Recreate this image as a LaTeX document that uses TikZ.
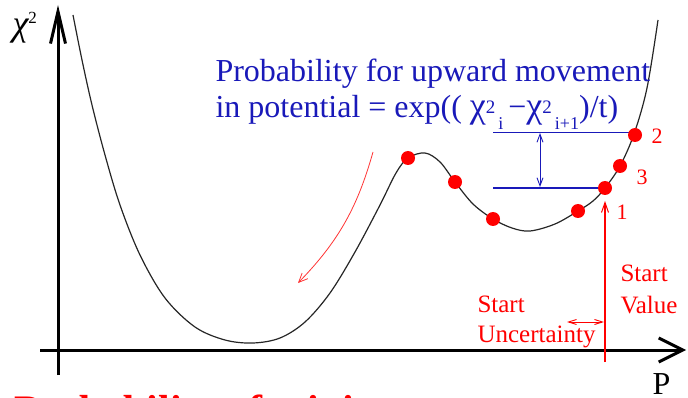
\documentclass[tikz,border=0pt]{standalone}
\usepackage{fontspec}
\setmainfont{Liberation Serif}
\usetikzlibrary{arrows.meta}
\definecolor{txtblue}{RGB}{25,25,185}
\definecolor{ptred}{RGB}{255,0,0}
\newcommand{\chisupx}[1]{\raisebox{4pt}{\fontsize{19}{19}\selectfont #1}}
\newcommand{\chisubx}[1]{\raisebox{-12pt}{\fontsize{18}{18}\selectfont #1}}
\begin{document}
\begin{tikzpicture}[x=1pt,y=-1pt,
  haxis/.style={line width=3pt, -{Straight Barb[length=24pt,width=24pt,line width=3pt]}},
  vaxis/.style={line width=3pt, -{Straight Barb[length=32pt,width=15pt,line width=3pt]}},
  curvestyle/.style={line width=1.2pt, black!85},
  dot/.style={circle, fill=ptred, minimum size=14pt, inner sep=0pt},
  bluetext/.style={anchor=base west, text=txtblue, font=\fontsize{32}{32}\selectfont},
  redtext/.style={anchor=base west, text=ptred, font=\fontsize{25}{25}\selectfont},
  numlabel/.style={text=ptred, font=\fontsize{22}{22}\selectfont, inner sep=0pt},
  bluearrow/.style={txtblue, line width=0.9pt, {Straight Barb[length=8pt,width=6pt]}-{Straight Barb[length=8pt,width=6pt]}},
  redarrow/.style={ptred, line width=0.9pt, {Straight Barb[length=8pt,width=5pt]}-{Straight Barb[length=8pt,width=5pt]}}
]
\useasboundingbox (0,0) rectangle (688,398);
\clip (0,0) rectangle (688,398);

% axes
\coordinate (yb) at (58,375);
\coordinate (yt) at (58,5);
\coordinate (xl) at (40,350);
\coordinate (xr) at (686,350);
\draw[vaxis] (yb) -- (yt);
\draw[haxis] (xl) -- (xr);
\node[anchor=base west, font=\itshape\fontsize{36}{36}\selectfont] (chi) at (9,36) {χ\raisebox{12pt}{\upshape\fontsize{17}{17}\selectfont 2}};
\node[anchor=base west, font=\fontsize{32}{32}\selectfont] (plab) at (649,394) {P};

% potential curve
\draw[curvestyle] plot[smooth, tension=0.55] coordinates {
 (73,15) (82,60) (92,105) (105,155) (120,205) (140,255) (165,298) (195,327)
 (225,340) (253,343) (280,338) (305,322) (330,293) (355,252) (380,205) (396,173)
 (408,158) (425,153) (440,162) (455,182) (473,204) (493,219) (512,228) (530,231)
 (555,224) (578,211) (593,201) (605,188) (620,166) (634,134) (647,88) (658,20)};

% blue annotation
\coordinate (b1l) at (493,132);
\coordinate (b1r) at (634,132);
\coordinate (b2l) at (493,188);
\coordinate (b2r) at (605,188);
\coordinate (va) at (540,133);
\coordinate (vb) at (540,187);
\draw[txtblue, line width=0.9pt] (b1l) -- (b1r);
\draw[txtblue, line width=1.8pt] (b2l) -- (b2r);
\draw[bluearrow] (va) -- (vb);

\node[bluetext] (t1) at (212,82) {Probability for upward movement};
\node[bluetext] (t2) at (212,118) {in potential = exp(( {\fontsize{36}{36}\selectfont χ}\chisupx{2}\chisubx{\,i}\hspace{5pt}−{\fontsize{36}{36}\selectfont χ}\chisupx{2}\chisubx{\,i+1})/t)};

% red dots
\node[dot] (p1) at (408,158) {};
\node[dot] (p2) at (455,182) {};
\node[dot] (p3) at (493,219) {};
\node[dot] (p4) at (578,211) {};
\node[dot] (s1) at (605,188) {};
\node[dot] (s3) at (620,166) {};
\node[dot] (s2) at (635,135) {};
\node[numlabel] (l2) at (657,136) {2};
\node[numlabel] (l3) at (642,177) {3};
\node[numlabel] (l1) at (622,212) {1};

% start value arrow
\coordinate (sva) at (605,362);
\coordinate (svb) at (605,201);
\draw[ptred, line width=1.4pt, -{Straight Barb[length=10pt,width=7pt,line width=1pt]}] (sva) -- (svb);
\node[redtext] (sv1) at (617,281) {Start};
\node[redtext] (sv2) at (617,313) {Value};

% start uncertainty
\coordinate (ua) at (567,322);
\coordinate (ub) at (604,322);
\draw[redarrow] (ua) -- (ub);
\node[redtext] (su1) at (474,312) {Start};
\node[redtext] (su2) at (474,342) {Uncertainty};

% downhill arrow
\coordinate (da) at (373,152);
\coordinate (db) at (298,283);
\draw[ptred!80, line width=0.8pt, -{Straight Barb[length=9pt,width=8pt]}] (da) .. controls (358,205) and (340,240) .. (db);

% bottom title (cut off by the lower edge, as in the reference)
\node[anchor=base west, text=ptred, font=\bfseries\fontsize{42}{42}\selectfont] (title) at (11,424) {Probability of minimum};
\end{tikzpicture}
\end{document}
